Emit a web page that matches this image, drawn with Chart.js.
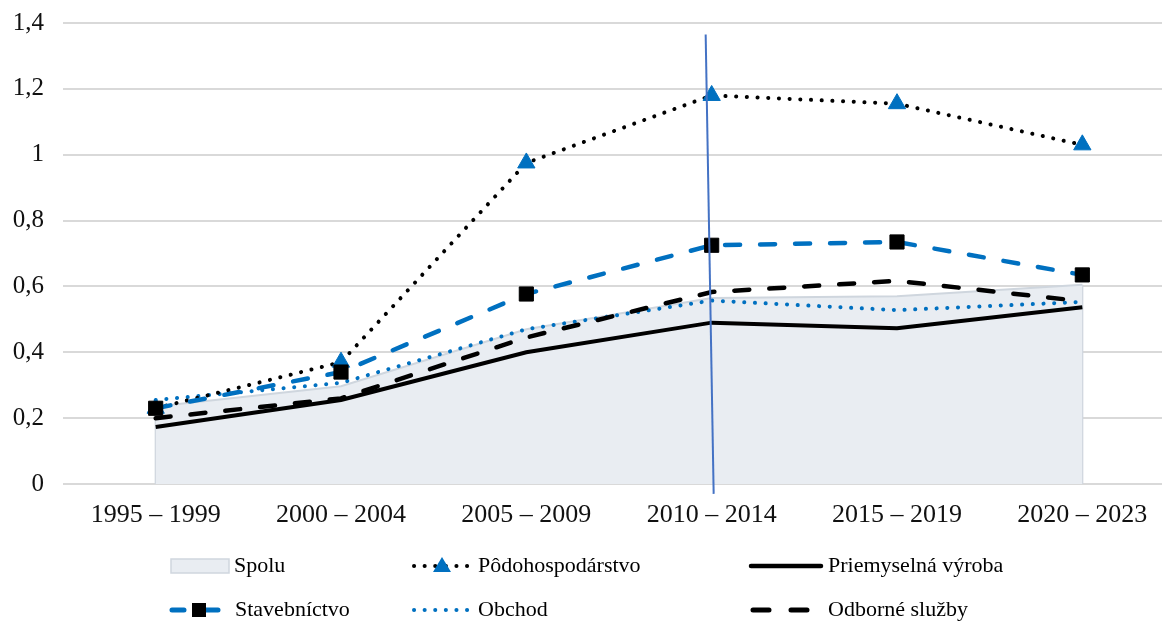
<!DOCTYPE html>
<html>
<head>
<meta charset="utf-8">
<script src="https://cdn.jsdelivr.net/npm/chart.js@4.4.1/dist/chart.umd.min.js"></script>
<style>
  html, body { margin: 0; padding: 0; overflow: hidden; background: #fff; }
  #wrap { position: relative; width: 1175px; height: 621px; }
</style>
</head>
<body>
<div id="wrap"><canvas id="chart"></canvas></div>
<script>
const categories = ['1995 – 1999', '2000 – 2004', '2005 – 2009', '2010 – 2014', '2015 – 2019', '2020 – 2023'];
const spolu = [0.235, 0.297, 0.47, 0.565, 0.57, 0.605];
const podohospodarstvo = [0.23, 0.37, 0.975, 1.18, 1.155, 1.03];
const priemysel = [0.173, 0.255, 0.40, 0.49, 0.473, 0.537];
const stavebnictvo = [0.23, 0.34, 0.577, 0.725, 0.735, 0.635];
const obchod = [0.255, 0.307, 0.47, 0.557, 0.528, 0.553];
const odborne = [0.20, 0.26, 0.445, 0.583, 0.617, 0.555];
const yTicks = [0, 0.2, 0.4, 0.6, 0.8, 1, 1.2, 1.4];

const BLUE = '#0070c0';
const FONT = '"Liberation Serif", serif';

// legenda kreslená ručne, dve riadky po troch
const legendPlugin = {
  id: 'customLegend',
  afterDraw(chart) {
    const ctx = chart.ctx;
    ctx.save();
    ctx.font = '22px ' + FONT;
    ctx.fillStyle = '#000';
    ctx.textBaseline = 'middle';
    const r1 = 566, r2 = 610;

    // Spolu
    ctx.fillStyle = '#e9edf2';
    ctx.fillRect(171, r1 - 7, 58, 14);
    ctx.strokeStyle = '#cfd6de';
    ctx.lineWidth = 1.5;
    ctx.strokeRect(171, r1 - 7, 58, 14);

    const line = (x1, x2, y, color, width, dash) => {
      ctx.beginPath();
      ctx.setLineDash(dash);
      ctx.lineCap = 'round';
      ctx.strokeStyle = color;
      ctx.lineWidth = width;
      ctx.moveTo(x1, y);
      ctx.lineTo(x2, y);
      ctx.stroke();
      ctx.setLineDash([]);
    };
    line(414, 472, r1, '#000', 4, [0.1, 10.5]);
    ctx.fillStyle = BLUE;
    ctx.beginPath();
    ctx.moveTo(442, r1 - 9);
    ctx.lineTo(451, r1 + 6);
    ctx.lineTo(433, r1 + 6);
    ctx.closePath();
    ctx.fill();
    line(751, 821, r1, '#000', 4.5, []);
    line(172, 218, r2, BLUE, 5, [12, 22]);
    ctx.fillStyle = '#000';
    ctx.fillRect(192, r2 - 7, 14, 14);
    line(414, 472, r2, BLUE, 4, [0.1, 10.5]);
    line(753, 820, r2, '#000', 5, [16, 22]);

    ctx.fillStyle = '#000';
    ctx.fillText('Spolu', 234, r1);
    ctx.fillText('Pôdohospodárstvo', 478, r1);
    ctx.fillText('Priemyselná výroba', 828, r1);
    ctx.fillText('Stavebníctvo', 235, r2);
    ctx.fillText('Obchod', 478, r2);
    ctx.fillText('Odborné služby', 828, r2);
    ctx.restore();
  }
};

// tenká modrá zvislá čiara pri 2010 – 2014
const markerLine = {
  id: 'markerLine',
  afterDraw(chart) {
    const xs = chart.scales.x, ys = chart.scales.y;
    const x0 = xs.getPixelForValue(3);
    const ctx = chart.ctx;
    ctx.save();
    ctx.strokeStyle = '#4472c4';
    ctx.lineWidth = 2;
    ctx.beginPath();
    ctx.moveTo(x0 - 6, ys.getPixelForValue(1.365));
    ctx.lineTo(x0 + 2, ys.getPixelForValue(-0.03));
    ctx.stroke();
    ctx.restore();
  }
};

// zvislé okraje plochy Spolu
const areaEdges = {
  id: 'areaEdges',
  beforeDatasetsDraw(chart) {
    const xs = chart.scales.x, ys = chart.scales.y;
    const ctx = chart.ctx;
    ctx.save();
    ctx.strokeStyle = '#cfd6de';
    ctx.lineWidth = 2;
    [0, spolu.length - 1].forEach(i => {
      const x = xs.getPixelForValue(i);
      ctx.beginPath();
      ctx.moveTo(x, ys.getPixelForValue(0));
      ctx.lineTo(x, ys.getPixelForValue(spolu[i]));
      ctx.stroke();
    });
    ctx.restore();
  }
};

new Chart(document.getElementById('chart'), {
  type: 'line',
  data: {
    labels: categories,
    datasets: [
      {
        label: 'Spolu',
        data: spolu,
        order: 5,
        fill: 'origin',
        backgroundColor: '#e9edf2',
        borderColor: '#cfd6de',
        borderWidth: 2,
        pointRadius: 0,
        tension: 0,
      },
      {
        label: 'Pôdohospodárstvo',
        data: podohospodarstvo,
        order: 1,
        borderColor: '#000',
        borderWidth: 4,
        borderDash: [0.1, 10.6],
        borderCapStyle: 'round',
        pointStyle: 'triangle',
        pointRadius: 10,
        pointBackgroundColor: BLUE,
        pointBorderColor: BLUE,
        pointBorderWidth: 1,
        fill: false,
      },
      {
        label: 'Priemyselná výroba',
        data: priemysel,
        order: 4,
        borderColor: '#000',
        borderWidth: 4,
        pointRadius: 0,
        fill: false,
      },
      {
        label: 'Stavebníctvo',
        data: stavebnictvo,
        order: 0,
        borderColor: BLUE,
        borderWidth: 4.5,
        borderDash: [15, 20],
        borderCapStyle: 'round',
        pointStyle: 'rect',
        pointRadius: 10,
        pointBackgroundColor: '#000',
        pointBorderColor: '#000',
        pointBorderWidth: 1,
        fill: false,
      },
      {
        label: 'Obchod',
        data: obchod,
        order: 3,
        borderColor: BLUE,
        borderWidth: 4,
        borderDash: [0.1, 10.6],
        borderCapStyle: 'round',
        pointRadius: 0,
        fill: false,
      },
      {
        label: 'Odborné služby',
        data: odborne,
        order: 2,
        borderColor: '#000',
        borderWidth: 4.5,
        borderDash: [15, 20],
        borderCapStyle: 'round',
        pointRadius: 0,
        fill: false,
      },
    ],
  },
  options: {
    responsive: true,
    maintainAspectRatio: false,
    animation: false,
    layout: { autoPadding: false, padding: { top: 23, right: 0, bottom: 77, left: 0 } },
    plugins: {
      legend: { display: false },
      tooltip: { enabled: false },
    },
    scales: {
      x: {
        offset: true,
        grid: { display: false, drawTicks: false },
        border: { display: false },
        ticks: { color: '#111', font: { family: FONT, size: 26 }, padding: 16, maxRotation: 0 },
        afterFit: (s) => { s.height = 60; s.paddingLeft = 0; s.paddingRight = 0; },
      },
      y: {
        min: 0,
        max: 1.4,
        afterBuildTicks: (s) => { s.ticks = yTicks.map(v => ({ value: v })); },
        grid: { color: '#d9d9d9', lineWidth: 2, drawTicks: false },
        border: { display: false },
        ticks: {
          color: '#111',
          font: { family: FONT, size: 25 },
          padding: 19,
          callback: (v) => String(+Number(v).toFixed(1)).replace('.', ','),
        },
        afterFit: (s) => { s.width = 63; s.paddingTop = 0; s.paddingBottom = 0; },
      },
    },
  },
  plugins: [legendPlugin, markerLine, areaEdges],
});
</script>
</body>
</html>
